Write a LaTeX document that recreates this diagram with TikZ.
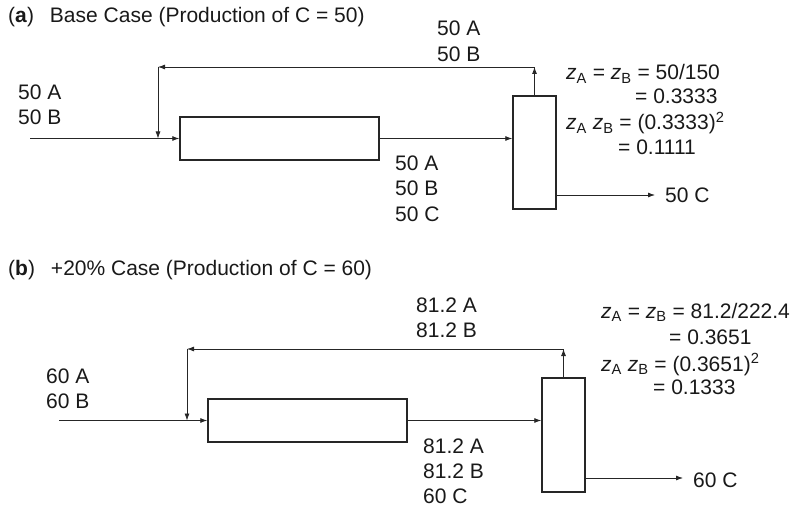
\documentclass[tikz,border=0pt]{standalone}
\usepackage{fontspec}
\setmainfont{Liberation Sans}
\usetikzlibrary{arrows.meta}
\begin{document}
\begin{tikzpicture}[x=1pt,y=-1pt,
  lbl/.style={anchor=base west, inner sep=0pt, font=\fontsize{21}{25}\selectfont, text=black!90},
  unit/.style={draw, line width=1.5pt, inner sep=0pt, draw=black!85},
  flow/.style={line width=0.8pt, draw=black!85, -{Latex[length=7pt,width=5pt]}},
  ]
\useasboundingbox (0,0) rectangle (790,508);
% ---------- (a) ----------
\node[lbl] (ta) at (8,23) {(\textbf{a})\hspace{16pt}Base Case (Production of C = 50)};
\node[unit, minimum width=199pt, minimum height=43pt] (ra) at (279.5,138.5) {};
\node[unit, minimum width=43pt, minimum height=113pt] (ca) at (534.5,152.5) {};
\coordinate (fa) at (30,138.5);
\coordinate (ua) at (534.5,67);
\coordinate (la) at (158,67);
\coordinate (ja) at (158,138.5);
\coordinate (pa) at (655,195);
\draw[flow] (fa) -- (ra.west);
\draw[flow] (ca.north) -- (ua);
\draw[flow] (ua) -- (la);
\draw[flow] (la) -- (ja);
\draw[flow] (ra.east) -- (ca.west |- ra.east);
\draw[flow] (ca.east |- pa) -- (pa);
\node[lbl] (fla1) at (18,100) {50 A};
\node[lbl] (fla2) at (18,125) {50 B};
\node[lbl] (rla1) at (437,36) {50 A};
\node[lbl] (rla2) at (437,61.5) {50 B};
\node[lbl] (ola1) at (395,171) {50 A};
\node[lbl] (ola2) at (395,196) {50 B};
\node[lbl] (ola3) at (395,221) {50 C};
\node[lbl] (pla) at (665,202) {50 C};
\node[lbl] (ea1) at (566,80) {\textit{z}\textsubscript{A} = \textit{z}\textsubscript{B} = 50/150};
\node[lbl] (ea2) at (635,104) {= 0.3333};
\node[lbl] (ea3) at (566,130) {\textit{z}\textsubscript{A} \textit{z}\textsubscript{B} = (0.3333)\textsuperscript{2}};
\node[lbl] (ea4) at (618,155) {= 0.1111};
% ---------- (b) ----------
\node[lbl] (tb) at (8,275) {(\textbf{b})\hspace{16pt}+20\% Case (Production of C = 60)};
\node[unit, minimum width=199pt, minimum height=43pt] (rb) at (307.5,420.5) {};
\node[unit, minimum width=43pt, minimum height=114pt] (cb) at (563.5,435) {};
\coordinate (fb) at (59,420.5);
\coordinate (ub) at (563.5,349);
\coordinate (lb) at (187,349);
\coordinate (jb) at (187,420.5);
\coordinate (pb) at (683,478);
\draw[flow] (fb) -- (rb.west);
\draw[flow] (cb.north) -- (ub);
\draw[flow] (ub) -- (lb);
\draw[flow] (lb) -- (jb);
\draw[flow] (rb.east) -- (cb.west |- rb.east);
\draw[flow] (cb.east |- pb) -- (pb);
\node[lbl] (flb1) at (46,383) {60 A};
\node[lbl] (flb2) at (46,408) {60 B};
\node[lbl] (rlb1) at (416,312) {81.2 A};
\node[lbl] (rlb2) at (416,337) {81.2 B};
\node[lbl] (olb1) at (423,453) {81.2 A};
\node[lbl] (olb2) at (423,478) {81.2 B};
\node[lbl] (olb3) at (423,503) {60 C};
\node[lbl] (plb) at (693,487) {60 C};
\node[lbl] (eb1) at (601,318) {\textit{z}\textsubscript{A} = \textit{z}\textsubscript{B} = 81.2/222.4};
\node[lbl] (eb2) at (669,344) {= 0.3651};
\node[lbl] (eb3) at (601,371) {\textit{z}\textsubscript{A} \textit{z}\textsubscript{B} = (0.3651)\textsuperscript{2}};
\node[lbl] (eb4) at (653,394) {= 0.1333};
\end{tikzpicture}
\end{document}
